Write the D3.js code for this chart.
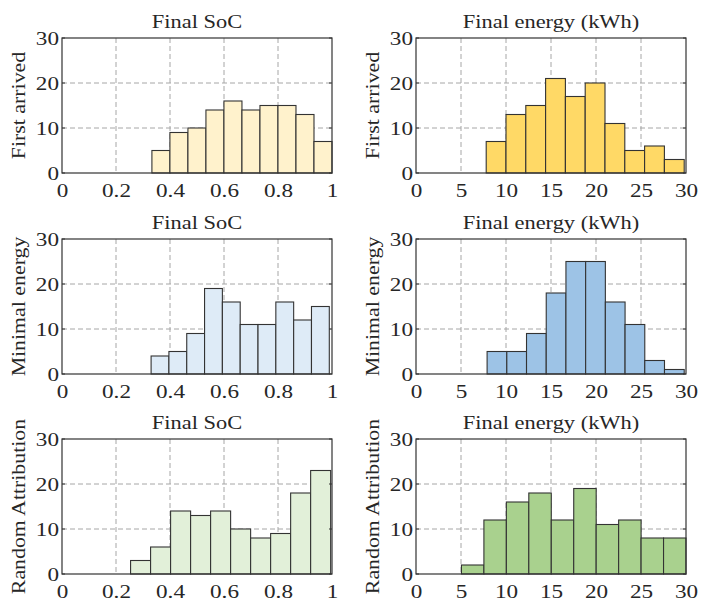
<!DOCTYPE html>
<html><head><meta charset="utf-8">
<script src="https://cdn.jsdelivr.net/npm/d3@7"></script>
<style>body{margin:0;background:#fff}svg{display:block}</style>
</head><body>
<svg id="c" width="704" height="602"></svg>
<script>
// ---- data ----
const rowLabels = ["First arrived", "Minimal energy", "Random Attribution"];
const colTitles = ["Final SoC", "Final energy (kWh)"];
const socTicks = [0, 0.2, 0.4, 0.6, 0.8, 1];
const energyTicks = [0, 5, 10, 15, 20, 25, 30];
const countTicks = [0, 10, 20, 30];

const socFirstRange = [0.333, 1.0];
const socFirstCounts = [5, 9, 10, 14, 16, 14, 15, 15, 13, 7];
const energyFirstRange = [7.8, 29.8];
const energyFirstCounts = [7, 13, 15, 21, 17, 20, 11, 5, 6, 3];

const socMinRange = [0.33, 0.99];
const socMinCounts = [4, 5, 9, 19, 16, 11, 11, 16, 12, 15];
const energyMinRange = [7.9, 29.8];
const energyMinCounts = [5, 5, 9, 18, 25, 25, 16, 11, 3, 1];

const socRandRange = [0.254, 0.995];
const socRandCounts = [3, 6, 14, 13, 14, 10, 8, 9, 18, 23];
const energyRandRange = [5.05, 30.0];
const energyRandCounts = [2, 12, 16, 18, 12, 19, 11, 12, 8, 8];

const fills = ["#FFF2CC", "#FFD966", "#DEEBF7", "#9DC3E6", "#E2F0D9", "#A9D18E"];

// ---- layout ----
const svg = d3.select("#c");
const font = "'Liberation Serif','Times New Roman',serif";
const colX = [62, 416], plotW = 270;
const rowY = [38, 239, 439], plotH = 135;

const panels = [
  {r:0,c:0,range:socFirstRange,counts:socFirstCounts,fill:fills[0]},
  {r:0,c:1,range:energyFirstRange,counts:energyFirstCounts,fill:fills[1]},
  {r:1,c:0,range:socMinRange,counts:socMinCounts,fill:fills[2]},
  {r:1,c:1,range:energyMinRange,counts:energyMinCounts,fill:fills[3]},
  {r:2,c:0,range:socRandRange,counts:socRandCounts,fill:fills[4]},
  {r:2,c:1,range:energyRandRange,counts:energyRandCounts,fill:fills[5]},
];

const TS = 1.22; // horizontal glyph stretch

panels.forEach(p => {
  const g = svg.append("g").attr("transform", `translate(${colX[p.c]},${rowY[p.r]})`);
  const xDom = p.c === 0 ? [0, 1] : [0, 30];
  const xt = p.c === 0 ? socTicks : energyTicks;
  const x = d3.scaleLinear().domain(xDom).range([0, plotW]);
  const y = d3.scaleLinear().domain([0, 30]).range([plotH, 0]);

  // grid
  g.append("g").selectAll("line.gx").data(xt.slice(1, -1)).join("line")
    .attr("x1", d => x(d)).attr("x2", d => x(d)).attr("y1", 0).attr("y2", plotH)
    .attr("stroke", "#a6a6a6").attr("stroke-width", 1).attr("stroke-dasharray", "5,3");
  g.append("g").selectAll("line.gy").data(countTicks.slice(1, -1)).join("line")
    .attr("y1", d => y(d)).attr("y2", d => y(d)).attr("x1", 0).attr("x2", plotW)
    .attr("stroke", "#a6a6a6").attr("stroke-width", 1).attr("stroke-dasharray", "5,3");

  // bars
  const n = p.counts.length;
  const w = (p.range[1] - p.range[0]) / n;
  const bins = p.counts.map((v, i) => ({x0: p.range[0] + i * w, x1: p.range[0] + (i + 1) * w, v}));
  g.append("g").selectAll("rect").data(bins).join("rect")
    .attr("x", d => x(d.x0)).attr("width", d => x(d.x1) - x(d.x0))
    .attr("y", d => y(d.v)).attr("height", d => y(0) - y(d.v))
    .attr("fill", p.fill).attr("stroke", "#333").attr("stroke-width", 1.1);

  // box
  g.append("rect").attr("x", 0).attr("y", 0).attr("width", plotW).attr("height", plotH)
    .attr("fill", "none").attr("stroke", "#333").attr("stroke-width", 1.2);

  // inner ticks
  g.append("g").selectAll("line").data(countTicks).join("line")
    .attr("x1", plotW - 3).attr("x2", plotW).attr("y1", d => y(d)).attr("y2", d => y(d))
    .attr("stroke", "#333");
  g.append("g").selectAll("line").data(countTicks).join("line")
    .attr("x1", 0).attr("x2", 3).attr("y1", d => y(d)).attr("y2", d => y(d))
    .attr("stroke", "#333");

  // axes
  const ax = g.append("g").attr("transform", `translate(0,${plotH})`)
    .call(d3.axisBottom(x).tickValues(xt).tickSize(0).tickPadding(11).tickFormat(d3.format("~g")));
  ax.select(".domain").remove();
  ax.selectAll("text").attr("font-family", font).attr("font-size", 19).attr("fill", "#262626")
    .attr("transform", `scale(${TS},1)`);

  const ay = g.append("g")
    .call(d3.axisLeft(y).tickValues(countTicks).tickSize(0).tickPadding(3));
  ay.select(".domain").remove();
  ay.selectAll("text").attr("font-family", font).attr("font-size", 19).attr("fill", "#262626")
    .attr("x", -3 / TS).attr("transform", `scale(${TS},1)`);

  // title
  g.append("text").attr("transform", `translate(${plotW / 2},-10) scale(1.18,1)`)
    .attr("text-anchor", "middle").attr("font-family", font).attr("font-size", 19)
    .attr("fill", "#262626").text(colTitles[p.c]);

  // y label
  g.append("text").attr("transform", `translate(-37,${plotH / 2}) rotate(-90) scale(1.15,1)`)
    .attr("text-anchor", "middle").attr("font-family", font).attr("font-size", 19)
    .attr("fill", "#262626").text(rowLabels[p.r]);
});
</script>
</body></html>
